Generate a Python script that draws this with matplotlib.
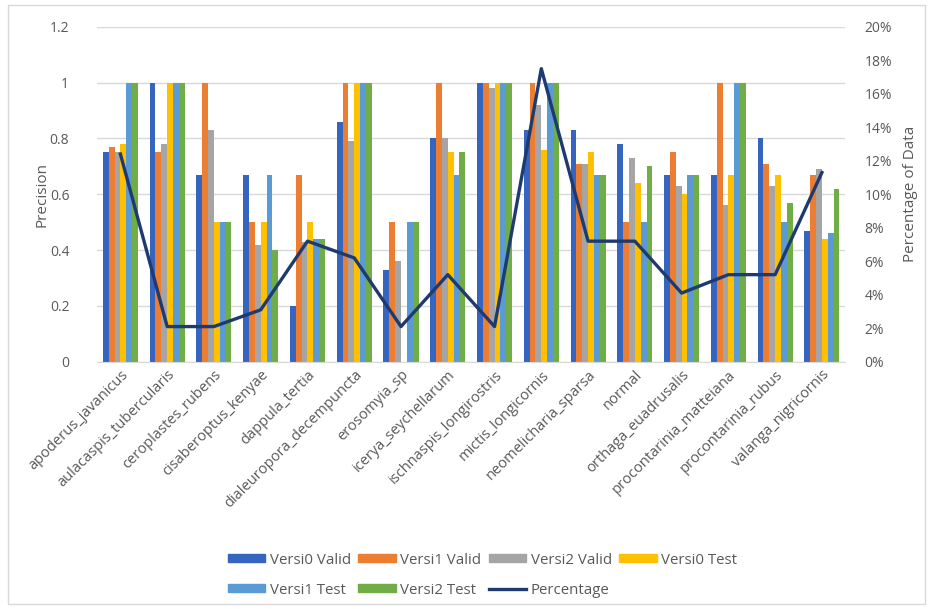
import matplotlib
matplotlib.use('Agg')
import matplotlib.pyplot as plt
from matplotlib.patches import Patch, Rectangle
from matplotlib.lines import Line2D
from matplotlib.ticker import FuncFormatter
import numpy as np

plt.rcParams['font.family'] = ['Open Sans', 'DejaVu Sans']

species = ['apoderus_javanicus', 'aulacaspis_tubercularis', 'ceroplastes_rubens',
           'cisaberoptus_kenyae', 'dappula_tertia', 'dialeuropora_decempuncta',
           'erosomyia_sp', 'icerya_seychellarum', 'ischnaspis_longirostris',
           'mictis_longicornis', 'neomelicharia_sparsa', 'normal',
           'orthaga_euadrusalis', 'procontarinia_matteiana', 'procontarinia_rubus',
           'valanga_nigricornis']

v0_valid = [0.75, 1.00, 0.67, 0.67, 0.20, 0.86, 0.33, 0.80, 1.00, 0.83, 0.83, 0.78, 0.67, 0.67, 0.80, 0.47]
v1_valid = [0.77, 0.75, 1.00, 0.50, 0.67, 1.00, 0.50, 1.00, 1.00, 1.00, 0.71, 0.50, 0.75, 1.00, 0.71, 0.67]
v2_valid = [0.75, 0.78, 0.83, 0.42, 0.43, 0.79, 0.36, 0.80, 0.98, 0.92, 0.71, 0.73, 0.63, 0.56, 0.63, 0.69]
v0_test = [0.78, 1.00, 0.50, 0.50, 0.50, 1.00, 0.00, 0.75, 1.00, 0.76, 0.75, 0.64, 0.60, 0.67, 0.67, 0.44]
v1_test = [1.00, 1.00, 0.50, 0.67, 0.44, 1.00, 0.50, 0.67, 1.00, 1.00, 0.67, 0.50, 0.67, 1.00, 0.50, 0.46]
v2_test = [1.00, 1.00, 0.50, 0.40, 0.44, 1.00, 0.50, 0.75, 1.00, 1.00, 0.67, 0.70, 0.67, 1.00, 0.57, 0.62]
percentage = [12.4, 2.1, 2.1, 3.1, 7.2, 6.2, 2.1, 5.2, 2.1, 17.5, 7.2, 7.2, 4.1, 5.2, 5.2, 11.3]

series = [
    ('Versi0 Valid', v0_valid, '#3565BF'),
    ('Versi1 Valid', v1_valid, '#ED7D31'),
    ('Versi2 Valid', v2_valid, '#A5A5A5'),
    ('Versi0 Test', v0_test, '#FFC000'),
    ('Versi1 Test', v1_test, '#5B9BD5'),
    ('Versi2 Test', v2_test, '#70AD47'),
]
line_color = '#1F3A6E'
text_color = '#595959'

fig = plt.figure(figsize=(9.33, 6.09), dpi=100)
ax = fig.add_axes([0.104, 0.406, 0.802, 0.550])

x = np.arange(len(species))
w = 0.125
for i, (name, vals, color) in enumerate(series):
    ax.bar(x + (i - 2.5) * w, vals, width=w, color=color, zorder=2)

ax.set_xlim(-0.5, len(species) - 0.5)
ax.set_ylim(0, 1.2)
ax.set_yticks(np.arange(0, 1.21, 0.2))
ax.yaxis.set_major_formatter(FuncFormatter(lambda v, p: f'{v:g}'))
ax.grid(axis='y', color='#D9D9D9', linewidth=1, zorder=0)
ax.set_axisbelow(True)
for s in ['top', 'right', 'left']:
    ax.spines[s].set_visible(False)
ax.spines['bottom'].set_color('#D9D9D9')
ax.tick_params(axis='both', length=0, colors=text_color, labelsize=10)
ax.tick_params(axis='x', labelsize=10.5, pad=4)
ax.tick_params(axis='y', pad=20)
ax.set_xticks(x)
ax.set_xticklabels(species, rotation=45, ha='right', rotation_mode='anchor')
ax.set_ylabel('Precision', color=text_color, fontsize=11, labelpad=0)

ax2 = ax.twinx()
ax2.plot(x, percentage, color=line_color, linewidth=2.4, zorder=3)
ax2.set_ylim(0, 20)
ax2.set_yticks(np.arange(0, 21, 2))
ax2.yaxis.set_major_formatter(FuncFormatter(lambda v, p: f'{v:.0f}%'))
for s in ax2.spines.values():
    s.set_visible(False)
ax2.tick_params(axis='y', length=0, colors=text_color, labelsize=10, pad=14)
ax2.set_ylabel('Percentage of Data', color=text_color, fontsize=11, labelpad=8)

# legend filled column-wise, so interleave to get row order
handles = [Patch(color=c, label=n) for n, _, c in series]
handles.append(Line2D([0], [0], color=line_color, linewidth=2.4, label='Percentage'))
order = [0, 4, 1, 5, 2, 6, 3]
fig.legend([handles[i] for i in order], [handles[i].get_label() for i in order],
           loc='upper left', bbox_to_anchor=(0.236, 0.105), ncol=4, frameon=False,
           fontsize=10.8, labelcolor=text_color, handlelength=2.5, handleheight=0.4,
           handletextpad=0.3, columnspacing=0.5, labelspacing=1.0, borderpad=0)

fig.patches.append(Rectangle((0.009, 0.008), 0.982, 0.984, transform=fig.transFigure,
                             fill=False, edgecolor='#D9D9D9', linewidth=1))

fig.savefig('out.png', dpi=100)
